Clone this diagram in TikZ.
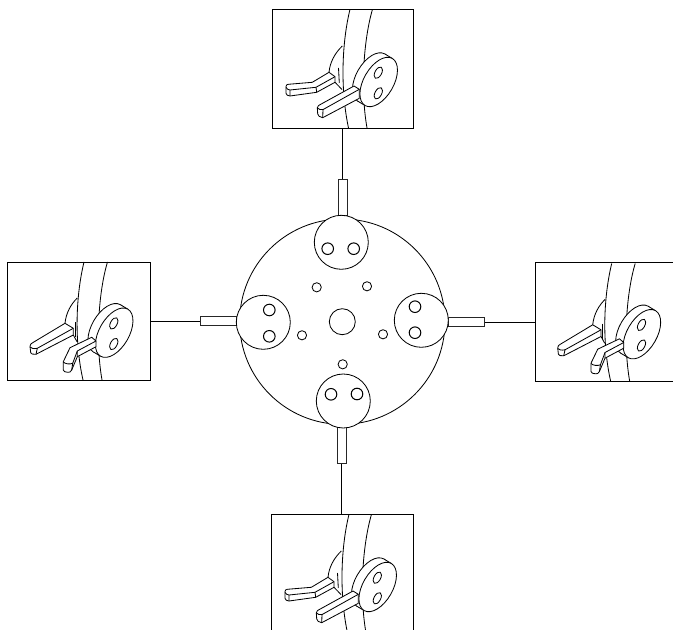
\documentclass[tikz,border=0pt]{standalone}
\tikzset{
  ink/.style={draw=black,line width=0.62pt,line join=round},
  solid part/.style={ink,fill=white},
  inset/.style={rectangle,draw=black,line width=0.7pt,inner sep=0pt,anchor=north west},
  rod/.style={rectangle,draw=black!85,line width=0.75pt,fill=white,inner sep=0pt,anchor=center},
  hub/.style={circle,ink,fill=white,inner sep=0pt,minimum size=154pt},
  lobe/.style={circle,ink,fill=white,inner sep=0pt,minimum size=40.5pt},
  bore/.style={circle,draw=black,line width=0.75pt,fill=white,inner sep=0pt,minimum size=8.7pt},
  pinhole/.style={circle,ink,fill=white,inner sep=0pt,minimum size=6.9pt},
  axle/.style={circle,ink,fill=white,inner sep=0pt,minimum size=19.5pt},
  link/.style={draw=black,line width=0.6pt},
  disc parts/.pic={
    \draw[solid part,rotate around={60:(371.2,77.5)}] (371.2,77.5) ellipse [x radius=20.4pt,y radius=11.2pt];
    \fill[white] (384.8,53.95) -- (392.3,58.45) -- (365.1,105.55) -- (357.6,101.05) -- cycle;
    \draw[ink] (384.8,53.95) -- (392.3,58.45) (365.1,105.55) -- (357.6,101.05);
    \draw[solid part,rotate around={60:(378.7,82)}] (378.7,82) ellipse [x radius=20.4pt,y radius=11.2pt];
    \draw[ink,rotate around={62:(378.3,72.7)}] (378.3,72.7) ellipse [x radius=4.7pt,y radius=2.5pt];
    \draw[ink,rotate around={62:(378.3,93.3)}] (378.3,93.3) ellipse [x radius=4.7pt,y radius=2.5pt];
  },
  top arms/.pic={
    \draw[ink] (350,9.3) .. controls (342,42) and (340,88) .. (348.5,128);
    \draw[ink] (372.5,9.3) .. controls (364,38) and (360,88) .. (367,128);
    \draw[ink] (329,72.3) .. controls (330,62) and (335,53) .. (342.3,46);
    \draw[ink] (338.5,68) -- (339.3,83);
    \draw[ink] (335,82.3) -- (342,89.5);
    \draw[solid part] (286,86.5) .. controls (286,85) and (287,84.5) .. (288.3,84.3) -- (312.3,82.3) -- (329,72.3) -- (335,76.7) -- (335,82.3) -- (316.7,92.3) -- (290,96) .. controls (288,95.8) and (286,95) .. (286,93.3) -- cycle;
    \draw[ink] (286,87.3) .. controls (287,89) and (288,90) .. (290,90) -- (316,87.3) -- (335,76.7);
    \draw[ink] (290,90) -- (290,96) (316,87.3) -- (316.7,92.3);
    \pic at (0,0) {disc parts};
    \draw[solid part] (317.3,107.8) .. controls (317.5,106) and (319,105) .. (320.7,104.3) -- (354,86) -- (359.3,89.3) -- (359.3,98.3) -- (322.7,117.7) .. controls (320,117) and (317.7,116) .. (317.7,114) -- cycle;
    \draw[ink] (317.5,108) .. controls (318.5,109.5) and (321,110) .. (323,109.6) -- (359.3,89.3);
    \draw[ink] (323,109.6) -- (322.7,117.7);
  },
  side arms/.pic={
    \draw[ink] (84,262) .. controls (76,295) and (74,340) .. (83,380);
    \draw[ink] (107.5,262) .. controls (99,290) and (95,340) .. (102,380);
    \draw[ink] (65,323.3) .. controls (66,313) and (71,304) .. (77.3,298);
    \draw[ink] (75,322) -- (75,337);
    \draw[ink] (73.3,335) -- (77,341.7);
    \draw[solid part] (30,346.5) .. controls (30,344.5) and (31,343.5) .. (32.7,342.7) -- (65,323.3) -- (73.3,328.3) -- (73.3,335) -- (36,354.3) .. controls (33,354.5) and (30.7,354) .. (30.7,352.7) -- cycle;
    \draw[ink] (30,347) .. controls (31,348.5) and (34,349) .. (37.3,348.3) -- (73.3,328.3);
    \draw[ink] (37.3,348.3) -- (36,354.3);
    \begin{scope}[shift={(-264.5,250.7)}]
      \pic at (0,0) {disc parts};
    \end{scope}
    \draw[solid part] (63.3,361.7) -- (70,347.7) -- (91.7,337.3) -- (96,341) -- (96,346.7) -- (77.3,356.7) -- (71.7,370) .. controls (70.5,372) and (69.5,372.5) .. (68.3,372.3) .. controls (65,372) and (63.3,371.5) .. (63.3,370) -- cycle;
    \draw[ink] (63.3,362) .. controls (65,364) and (70,364.5) .. (72.7,363.3) -- (77.3,351) -- (96,341);
    \draw[ink] (72.7,363.3) -- (71.7,370) (77.3,351) -- (77.3,356.7);
  }
}
\begin{document}
\begin{tikzpicture}[x=0.75pt,y=-0.75pt]
\useasboundingbox (0,0) rectangle (673,630);
\clip (0,0) rectangle (673,630);

% insets
\node[inset,minimum width=105.75pt,minimum height=88.9pt] (boxT) at (271.7,9.5) {};
\node[inset,minimum width=107pt,minimum height=88.9pt] (boxL) at (7.3,261.8) {};
\node[inset,minimum width=120pt,minimum height=89pt] (boxR) at (535,262.3) {};
\node[inset,minimum width=106.5pt,minimum height=110pt] (boxB) at (270.8,514.3) {};

\pic at (0,0) {top arms};
\pic at (-1,505) {top arms};
\pic at (0,0) {side arms};
\pic at (527.7,1.5) {side arms};

% connector rods
\node[rod,minimum width=6.75pt,minimum height=26.5pt] (rodT) at (342.8,197.5) {};
\node[rod,minimum width=6.75pt,minimum height=27pt] (rodB) at (341.8,445.3) {};
\node[rod,minimum width=27pt,minimum height=7.2pt] (rodL) at (218,320.9) {};
\node[rod,minimum width=27pt,minimum height=7.2pt] (rodR) at (466,321.9) {};

\draw[link] (rodT.north) -- (rodT.north |- boxT.south);
\draw[link] (rodB.south) -- (rodB.south |- boxB.north);
\draw[link] (rodL.west) -- (rodL.west -| boxL.east);
\draw[link] (rodR.east) -- (rodR.east -| boxR.west);

% main plate
\node[hub] (plate) at (342.3,321.7) {};
\node[axle] (centre) at (342.3,321.7) {};

\node[lobe] (lobeT) at (341.3,242.3) {};
\node[lobe] (lobeB) at (343.3,401) {};
\node[lobe] (lobeL) at (263.3,322.3) {};
\node[lobe] (lobeR) at (421.3,320.3) {};

\node[bore] (t1) at (327.7,248.7) {};
\node[bore] (t2) at (353.7,248.7) {};
\node[bore] (b1) at (331,394.3) {};
\node[bore] (b2) at (357,394) {};
\node[bore] (l1) at (269.3,310) {};
\node[bore] (l2) at (269.3,336.3) {};
\node[bore] (r1) at (415,306.7) {};
\node[bore] (r2) at (415,332.7) {};

\node[pinhole] (p1) at (316.7,287.3) {};
\node[pinhole] (p2) at (367,286.3) {};
\node[pinhole] (p3) at (302,335.3) {};
\node[pinhole] (p4) at (383,334.3) {};
\node[pinhole] (p5) at (342.7,364.3) {};
\end{tikzpicture}
\end{document}
